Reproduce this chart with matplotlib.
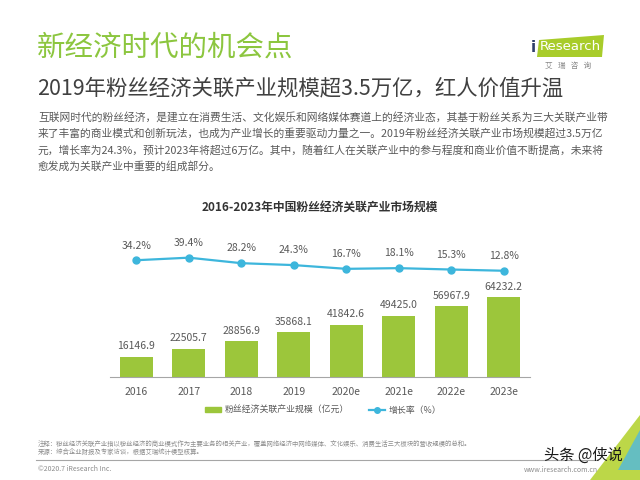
# 2016-2023年中国粉丝经济关联产业市场规模 (iResearch)

import matplotlib
matplotlib.use('Agg')
import matplotlib.pyplot as plt
from matplotlib.patches import Polygon, Patch
from matplotlib.lines import Line2D

plt.rcParams['font.family'] = ['Noto Sans CJK SC', 'DejaVu Sans']

# Data
years = ['2016', '2017', '2018', '2019', '2020e', '2021e', '2022e', '2023e']
scale = [16146.9, 22505.7, 28856.9, 35868.1, 41842.6, 49425.0, 56967.9, 64232.2]
growth = [34.2, 39.4, 28.2, 24.3, 16.7, 18.1, 15.3, 12.8]

GREEN = '#9cc63b'
BLUE = '#3db6dc'
GRAY = '#595959'

W, H = 640, 480
fig = plt.figure(figsize=(6.4, 4.8), dpi=100)


def fx(px):
    return px / W


def fy(py):
    return 1 - py / H


# Header
fig.text(fx(37), fy(48), '新经济时代的机会点', color='#8cc63f', fontsize=20.5,
         va='center', ha='left')
fig.text(fx(37), fy(88), '2019年粉丝经济关联产业规模超3.5万亿，红人价值升温',
         color='#404040', fontsize=15.4, va='center', ha='left')
body = ['互联网时代的粉丝经济，是建立在消费生活、文化娱乐和网络媒体赛道上的经济业态，其基于粉丝关系为三大关联产业带',
        '来了丰富的商业模式和创新玩法，也成为产业增长的重要驱动力量之一。2019年粉丝经济关联产业市场规模超过3.5万亿',
        '元，增长率为24.3%，预计2023年将超过6万亿。其中，随着红人在关联产业中的参与程度和商业价值不断提高，未来将',
        '愈发成为关联产业中重要的组成部分。']
for i, line in enumerate(body):
    fig.text(fx(38), fy(117 + i * 16.5), line, color=GRAY, fontsize=7.75,
             va='center', ha='left')

# iResearch logo
logo = Polygon([[fx(537), fy(57)], [fx(539), fy(40)], [fx(604), fy(35)], [fx(602), fy(57)]],
               closed=True, transform=fig.transFigure, facecolor='#a8cc2a', edgecolor='none')
fig.add_artist(logo)
fig.text(fx(533), fy(48), 'i', color='#2f3f6a', fontsize=11, va='center', ha='center',
         family='DejaVu Sans', fontweight='bold')
fig.text(fx(570), fy(47), 'Research', color='white', fontsize=9.5, va='center', ha='center',
         family='DejaVu Sans')
fig.text(fx(568), fy(66), '艾   瑞   咨   询', color='#888888', fontsize=5.5,
         va='center', ha='center')

# Chart title
fig.text(fx(320), fy(208), '2016-2023年中国粉丝经济关联产业市场规模', color='#333333',
         fontsize=8.5, fontweight='bold', va='center', ha='center')

x = list(range(len(years)))

# Bars
ax = fig.add_axes([fx(110), fy(377), fx(420), (377 - 290) / H])
ax.bar(x, scale, width=0.63, color=GREEN)
for xi, v in zip(x, scale):
    ax.annotate(f'{v:.1f}', (xi, v), xytext=(0, 4), textcoords='offset points',
                ha='center', va='bottom', fontsize=7.5, color=GRAY)
ax.set_xlim(-0.5, 7.5)
ax.set_ylim(0, 70000)
ax.set_xticks(x)
ax.set_xticklabels(years, fontsize=7.5, color=GRAY)
ax.tick_params(axis='x', length=0, pad=7)
ax.set_yticks([])
for s in ['top', 'left', 'right']:
    ax.spines[s].set_visible(False)
ax.spines['bottom'].set_color('#a6a6a6')
ax.patch.set_alpha(0)

# Growth line
ax2 = fig.add_axes([fx(110), fy(280), fx(420), 30 / H])
ax2.plot(x, growth, color=BLUE, lw=1.6, marker='o', markersize=5)
for xi, v in zip(x, growth):
    ax2.annotate(f'{v:.1f}%', (xi, v), xytext=(0, 7), textcoords='offset points',
                 ha='center', va='bottom', fontsize=7.5, color=GRAY)
ax2.set_xlim(-0.5, 7.5)
ax2.set_ylim(-6, 55)
ax2.axis('off')

# Legend
handles = [Patch(color=GREEN, label='粉丝经济关联产业规模（亿元）'),
           Line2D([], [], color=BLUE, marker='o', markersize=4, lw=1.6, label='增长率（%）')]
fig.legend(handles=handles, loc='center', bbox_to_anchor=(fx(323), fy(410)), ncol=2,
           frameon=False, fontsize=6.4, labelcolor=GRAY, handlelength=1.8,
           handleheight=0.6, columnspacing=2.2, handletextpad=0.4)

# Footer
fig.text(fx(38), fy(444), '注释：粉丝经济关联产业指以粉丝经济的商业模式作为主要业务的相关产业，覆盖网络经济中网络媒体、文化娱乐、消费生活三大板块的营收规模的总和。',
         color='#8c8c8c', fontsize=4.6, va='center', ha='left')
fig.text(fx(38), fy(452), '来源：综合企业财报及专家访谈，根据艾瑞统计模型核算。',
         color='#8c8c8c', fontsize=4.6, va='center', ha='left')
fig.add_artist(Line2D([fx(36), fx(598)], [fy(460), fy(460)], color='#a6a6a6', lw=0.8,
                      transform=fig.transFigure))
fig.text(fx(38), fy(469), '©2020.7 iResearch Inc.', color='#8c8c8c', fontsize=5,
         va='center', ha='left')
fig.text(fx(598), fy(470), 'www.iresearch.com.cn', color='#8c8c8c', fontsize=5,
         va='center', ha='right')

# corner decoration
fig.add_artist(Polygon([[fx(640), fy(415)], [fx(640), fy(480)], [fx(590), fy(480)]],
                       closed=True, transform=fig.transFigure, facecolor='#b5d334',
                       edgecolor='none', alpha=0.9))
fig.add_artist(Polygon([[fx(640), fy(430)], [fx(640), fy(470)], [fx(618), fy(470)]],
                       closed=True, transform=fig.transFigure, facecolor='#4fb8e0',
                       edgecolor='none', alpha=0.8))

# watermark
fig.text(fx(583), fy(455), '头条 @侠说', color='#1a1a1a', fontsize=11,
         va='center', ha='center')

fig.savefig('out.png', dpi=100)
